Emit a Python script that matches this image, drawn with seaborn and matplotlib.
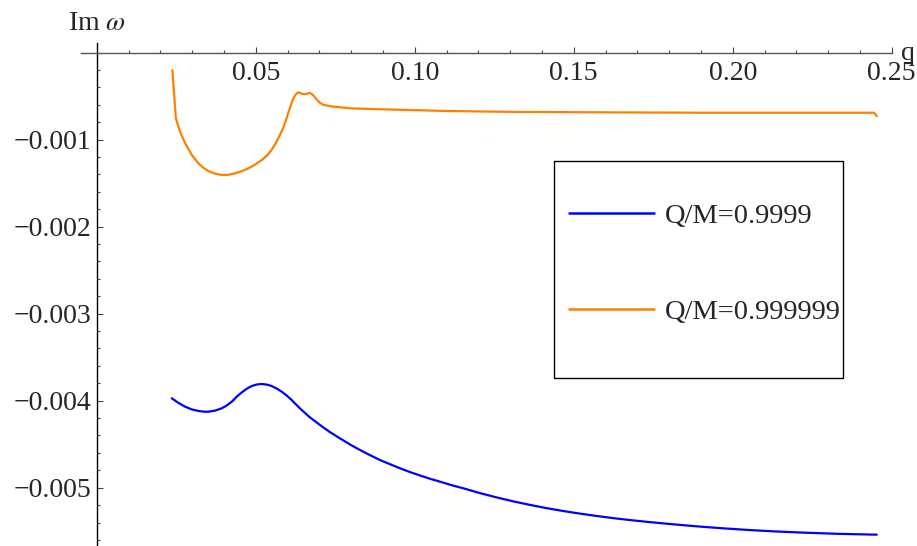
import pandas as pd
import seaborn as sns
import matplotlib.pyplot as plt
from matplotlib.patches import Rectangle

# ==========================================
# Data
# ==========================================
q_blue = [0.0236, 0.0257, 0.0278, 0.0299, 0.0320, 0.0336, 0.0351, 0.0372,
          0.0393, 0.0409, 0.0425, 0.0440, 0.0456, 0.0472, 0.0487, 0.0503,
          0.0519, 0.0535, 0.0550, 0.0566, 0.0582, 0.0598, 0.0613, 0.0639,
          0.0670, 0.0702, 0.0733, 0.0765, 0.0796, 0.0828, 0.0860, 0.0891,
          0.0923, 0.0954, 0.0985, 0.1017, 0.1048, 0.1080, 0.1115, 0.1153,
          0.1205, 0.1258, 0.1310, 0.1363, 0.1415, 0.1467, 0.1520, 0.1572,
          0.1625, 0.1677, 0.1735, 0.1790, 0.1845, 0.1897, 0.1970, 0.2050,
          0.2130, 0.2211, 0.2330, 0.2453]
im_blue = [-0.003972, -0.004025, -0.004069, -0.004100, -0.004118, -0.004126,
           -0.004126, -0.004114, -0.004088, -0.004055, -0.004011, -0.003955,
           -0.003905, -0.003862, -0.003832, -0.003814, -0.003808, -0.003815,
           -0.003831, -0.003860, -0.003897, -0.003942, -0.003992, -0.004088,
           -0.004190, -0.004279, -0.004360, -0.004433, -0.004502, -0.004567,
           -0.004627, -0.004682, -0.004731, -0.004777, -0.004820, -0.004860,
           -0.004897, -0.004931, -0.004970, -0.005007, -0.005062, -0.005112,
           -0.005157, -0.005198, -0.005235, -0.005268, -0.005298, -0.005325,
           -0.005350, -0.005372, -0.005394, -0.005413, -0.005431, -0.005447,
           -0.005467, -0.005486, -0.005502, -0.005515, -0.005530, -0.005540]

q_orange = [0.0238, 0.0249, 0.0262, 0.0278, 0.0299, 0.0320, 0.0335, 0.0351,
            0.0372, 0.0393, 0.0414, 0.0435, 0.0456, 0.0477, 0.0498, 0.0519,
            0.0535, 0.0550, 0.0563, 0.0576, 0.0587, 0.0597, 0.0607, 0.0617,
            0.0624, 0.0629, 0.0636, 0.0645, 0.0652, 0.0662, 0.0671, 0.0680,
            0.0690, 0.0700, 0.0713, 0.0744, 0.0800, 0.0891, 0.1000, 0.1100,
            0.1300, 0.1570, 0.1900, 0.2200, 0.2445, 0.2453]
im_orange = [-0.000199, -0.000754, -0.000908, -0.001040, -0.001176,
             -0.001272, -0.001322, -0.001360, -0.001390, -0.001406,
             -0.001403, -0.001387, -0.001362, -0.001329, -0.001286,
             -0.001234, -0.001182, -0.001118, -0.001040, -0.000946,
             -0.000860, -0.000754, -0.000640, -0.000535, -0.000490,
             -0.000467, -0.000455, -0.000472, -0.000478, -0.000470,
             -0.000462, -0.000485, -0.000530, -0.000570, -0.000600,
             -0.000620, -0.000640, -0.000650, -0.000660, -0.000670,
             -0.000680, -0.000685, -0.000690, -0.000690, -0.000690,
             -0.000730]

series_labels = ["Q/M=0.9999", "Q/M=0.999999"]
series_colors = ["#0000FF", "#FF8000"]

x_major = [0.05, 0.10, 0.15, 0.20, 0.25]
x_labels = ["0.05", "0.10", "0.15", "0.20", "0.25"]
x_minor = [i / 100 for i in range(1, 25) if i % 5 != 0]
y_major = [-0.001, -0.002, -0.003, -0.004, -0.005]
y_labels = ["\u22120.001", "\u22120.002", "\u22120.003", "\u22120.004", "\u22120.005"]
y_minor = [-i / 5000 for i in range(1, 29) if i % 5 != 0]

df = pd.concat([
    pd.DataFrame({"q": q_blue, "im": im_blue, "series": series_labels[0]}),
    pd.DataFrame({"q": q_orange, "im": im_orange, "series": series_labels[1]}),
])

# Style
sns.set_style("white")
plt.rcParams["font.family"] = ["Liberation Serif", "DejaVu Serif"]
plt.rcParams["mathtext.fontset"] = "stix"

W, H = 917, 546
fig = plt.figure(figsize=(W / 100, H / 100), dpi=100)

# axes placed so that q=0 sits at x=96.7px and Im=0 at y=52.7px
x0_px, sx = 96.7, 3180.0
y0_px, sy = 52.7, 87000.0
xmin, xmax = -0.005, 0.25
ymin, ymax = -(H - y0_px) / sy, (y0_px - 43) / sy
left = (x0_px + xmin * sx) / W
width = (xmax - xmin) * sx / W
top = 1 - (y0_px - ymax * sy) / H
ax = fig.add_axes([left, 0, width, top])

sns.lineplot(data=df, x="q", y="im", hue="series", palette=series_colors,
             estimator=None, sort=False, linewidth=1.6, ax=ax, legend=True)

ax.set_xlim(xmin, xmax)
ax.set_ylim(ymin, ymax)
ax.set_xlabel("")
ax.set_ylabel("")

# Mathematica-style axes crossing at the origin
for s in ["top", "right"]:
    ax.spines[s].set_visible(False)
ax.spines["left"].set_position(("data", 0))
ax.spines["bottom"].set_position(("data", 0))
ax.spines["bottom"].set_color("#555555")
ax.spines["left"].set_color("black")
ax.spines["bottom"].set_linewidth(1.0)
ax.spines["left"].set_linewidth(1.0)

ax.set_xticks(x_major)
ax.set_xticklabels(x_labels)
ax.set_xticks(x_minor, minor=True)
ax.set_yticks(y_major)
ax.set_yticklabels(y_labels)
ax.set_yticks(y_minor, minor=True)
ax.tick_params(axis="both", which="both", bottom=True, left=True,
               direction="in", width=0.8, color="#444444")
ax.tick_params(axis="both", which="major", length=4.5, labelsize=20)
ax.tick_params(axis="both", which="minor", length=2.3)
ax.tick_params(axis="x", which="major", pad=6)
ax.tick_params(axis="y", which="major", pad=4)

# axis labels
fig.text(68 / W, 1 - 23 / H, r"Im $\omega$", fontsize=20, ha="left", va="center")
fig.text(901 / W, 1 - 53 / H, "q", fontsize=20, ha="left", va="center")

# legend
leg = ax.legend(loc="upper left", bbox_to_anchor=(569 / W, 1 - 203 / H),
                bbox_transform=fig.transFigure, frameon=False, fontsize=20.5,
                handlelength=3.0, handletextpad=0.35, labelspacing=2.45,
                borderpad=0, borderaxespad=0)
for line in leg.get_lines():
    line.set_linewidth(1.8)
fig.patches.append(Rectangle((554 / W, 1 - 378 / H), (843 - 554) / W,
                             (378 - 161) / H, transform=fig.transFigure,
                             fill=False, edgecolor="black", linewidth=1.0))

plt.savefig("out.png", dpi=100)
